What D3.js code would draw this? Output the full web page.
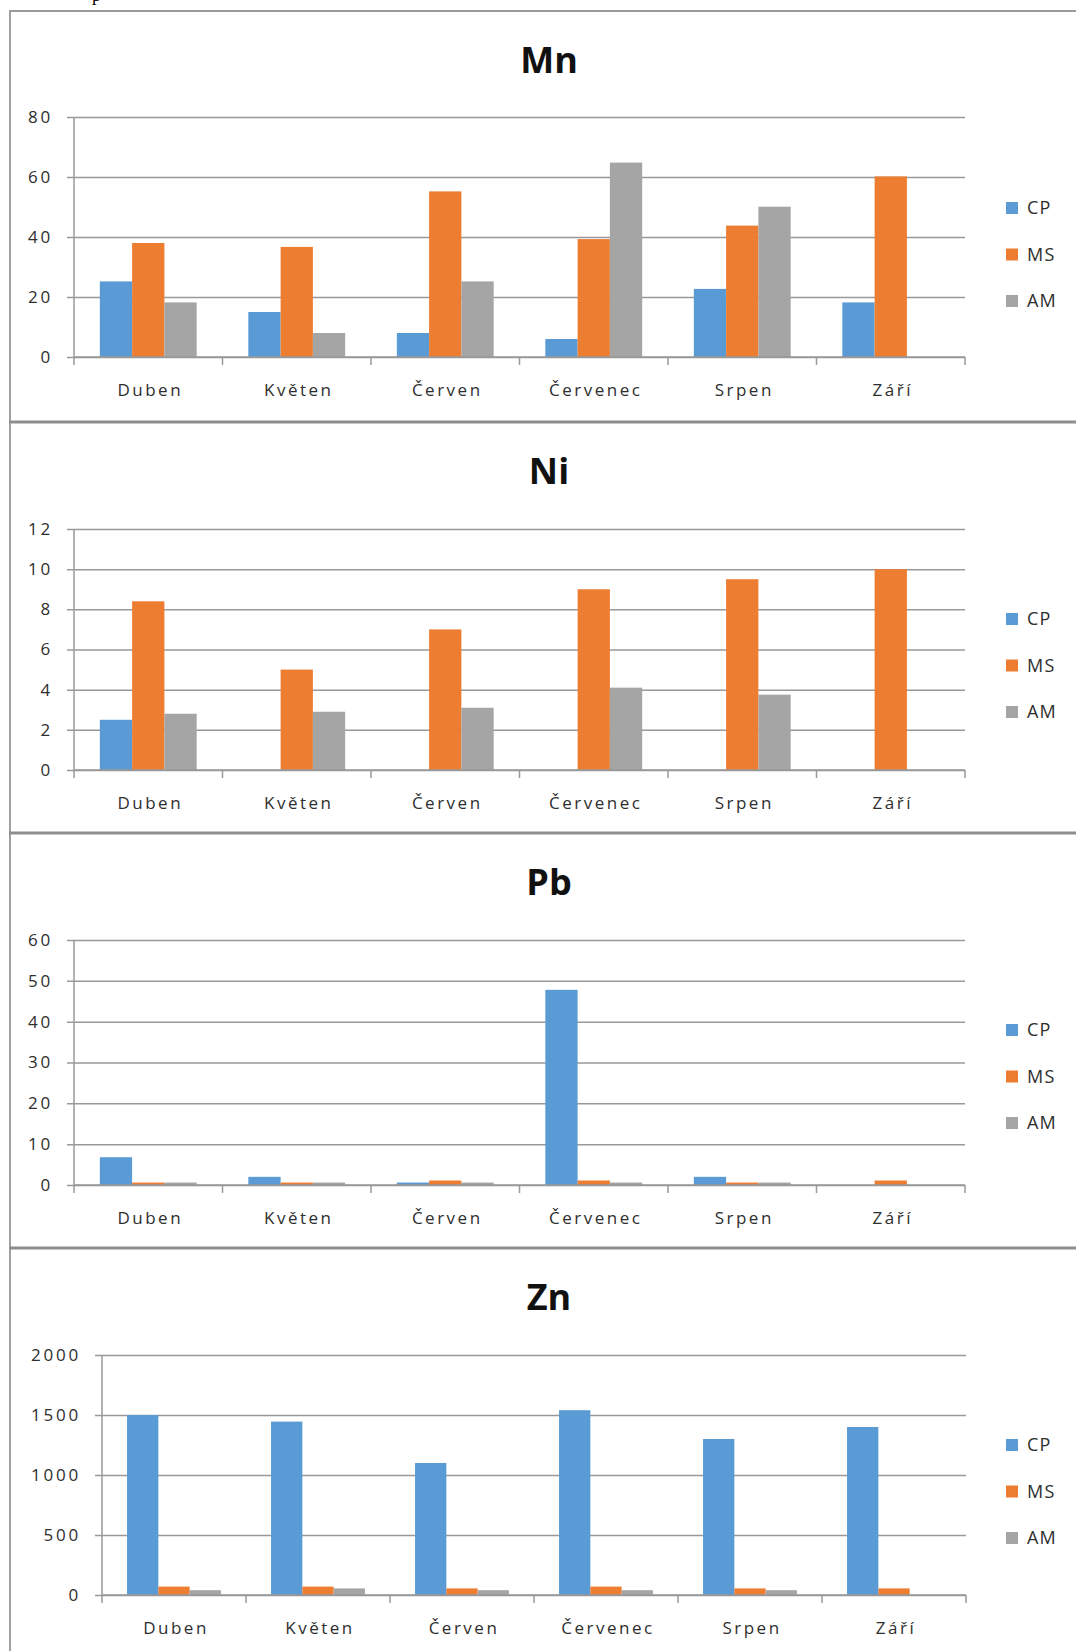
<!DOCTYPE html>
<html>
<head>
<meta charset="utf-8">
<script src="https://cdn.jsdelivr.net/npm/d3@7"></script>
<style>
  html, body { margin: 0; padding: 0; background: #fff; }
  svg { display: block; }
</style>
</head>
<body>
<svg id="chart" width="1076" height="1651"></svg>
<script>
// Months on the category axis and the three sampling sites
const months = ["Duben", "Květen", "Červen", "Červenec", "Srpen", "Září"];
const sites = ["CP", "MS", "AM"];
const siteColors = ["#5b9bd5", "#ed7d31", "#a5a5a5"];

// Manganese
const mnCP = [25.2, 15, 8, 6, 22.7, 18.2];
const mnMS = [38, 36.7, 55.2, 39.3, 43.8, 60.2];
const mnAM = [18.2, 8, 25.2, 64.8, 50.1, 0];
const mnTicks = [0, 20, 40, 60, 80];

// Nickel
const niCP = [2.5, 0, 0, 0, 0, 0];
const niMS = [8.4, 5, 7, 9, 9.5, 10];
const niAM = [2.8, 2.9, 3.1, 4.1, 3.75, 0];
const niTicks = [0, 2, 4, 6, 8, 10, 12];

// Lead
const pbCP = [6.8, 2, 0.6, 47.8, 2, 0];
const pbMS = [0.6, 0.6, 1.1, 1.1, 0.6, 1.1];
const pbAM = [0.6, 0.6, 0.6, 0.6, 0.6, 0];
const pbTicks = [0, 10, 20, 30, 40, 50, 60];

// Zinc
const znCP = [1500, 1445, 1100, 1540, 1300, 1400];
const znMS = [70, 70, 55, 70, 55, 55];
const znAM = [40, 55, 40, 40, 40, 0];
const znTicks = [0, 500, 1000, 1500, 2000];

const charts = [
  { title: "Mn", values: [mnCP, mnMS, mnAM], ticks: mnTicks },
  { title: "Ni", values: [niCP, niMS, niAM], ticks: niTicks },
  { title: "Pb", values: [pbCP, pbMS, pbAM], ticks: pbTicks },
  { title: "Zn", values: [znCP, znMS, znAM], ticks: znTicks }
];

// Frame geometry of each stacked chart
const frames = [
  { top: 11,   plotTop: 117, plotBottom: 357,  left: 74,  right: 965 },
  { top: 422,  plotTop: 529, plotBottom: 770,  left: 74,  right: 965 },
  { top: 833,  plotTop: 940, plotBottom: 1185, left: 74,  right: 965 },
  { top: 1248, plotTop: 1355, plotBottom: 1595, left: 102, right: 966 }
];

const svg = d3.select("#chart");
const font = "'Open Sans', 'Noto Sans', sans-serif";
const gridColor = "#999999";
const textColor = "#2e2e2e";

// Fragment of the surrounding document text above the first chart
svg.append("text")
  .attr("x", 92).attr("y", 1)
  .attr("font-family", "'Liberation Serif', serif")
  .attr("font-size", 18)
  .attr("fill", "#000")
  .text("p");

// Outer borders: left edge and top edge of the chart stack
svg.append("line")
  .attr("x1", 10).attr("x2", 10).attr("y1", 10).attr("y2", 1651)
  .attr("stroke", "#a0a0a0").attr("stroke-width", 2);
svg.append("line")
  .attr("x1", 9).attr("x2", 1076).attr("y1", 11).attr("y2", 11)
  .attr("stroke", "#9a9a9a").attr("stroke-width", 2);

// Separators between stacked charts
frames.slice(1).forEach(f => {
  svg.append("line")
    .attr("x1", 9).attr("x2", 1076).attr("y1", f.top).attr("y2", f.top)
    .attr("stroke", "#8e8e8e").attr("stroke-width", 3);
});

charts.forEach((c, i) => {
  const f = frames[i];
  const g = svg.append("g");

  const x0 = d3.scaleBand().domain(months).range([f.left, f.right]).padding(0);
  const step = x0.bandwidth();
  const barW = step / 4.6;
  const gap = step - 3 * barW;
  const x1 = d3.scaleBand().domain(sites).range([gap / 2, step - gap / 2]).padding(0);

  const yMax = c.ticks[c.ticks.length - 1];
  const y = d3.scaleLinear().domain([0, yMax]).range([f.plotBottom, f.plotTop]);

  // Title
  g.append("text")
    .attr("x", 549).attr("y", f.top + 62)
    .attr("text-anchor", "middle")
    .attr("font-family", font)
    .attr("font-weight", "bold")
    .attr("font-size", 36)
    .attr("fill", "#111")
    .text(c.title);

  // Horizontal gridlines with outward tick marks
  const yAxis = d3.axisLeft(y).tickValues(c.ticks).tickSize(-(f.right - f.left)).tickSizeOuter(0).tickFormat("");
  const yg = g.append("g").attr("transform", `translate(${f.left},0)`).call(yAxis);
  yg.select(".domain").remove();
  yg.selectAll(".tick line")
    .attr("x1", -7)
    .attr("stroke", gridColor).attr("stroke-width", 1.5);

  // Y tick labels
  g.selectAll(".ylab").data(c.ticks).enter().append("text")
    .attr("x", f.left - 21)
    .attr("y", d => y(d))
    .attr("dy", "0.35em")
    .attr("text-anchor", "end")
    .attr("font-family", font)
    .attr("font-size", 17)
    .attr("letter-spacing", 2.8)
    .attr("fill", textColor)
    .text(d => d);

  // Bars
  c.values.forEach((vals, s) => {
    g.selectAll(".bar" + s).data(vals).enter().append("rect")
      .attr("x", (d, k) => x0(months[k]) + x1(sites[s]))
      .attr("width", x1.bandwidth())
      .attr("y", d => y(d))
      .attr("height", d => y(0) - y(d))
      .attr("fill", siteColors[s]);
  });

  // Vertical axis line
  g.append("line")
    .attr("x1", f.left).attr("x2", f.left)
    .attr("y1", f.plotTop).attr("y2", f.plotBottom)
    .attr("stroke", gridColor).attr("stroke-width", 1.5);

  // Category axis with tick marks at band boundaries
  g.append("line")
    .attr("x1", f.left).attr("x2", f.right)
    .attr("y1", f.plotBottom).attr("y2", f.plotBottom)
    .attr("stroke", gridColor).attr("stroke-width", 1.5);
  const bounds = months.map(m => x0(m)).concat([f.right]);
  g.selectAll(".xtick").data(bounds).enter().append("line")
    .attr("x1", d => d).attr("x2", d => d)
    .attr("y1", f.plotBottom).attr("y2", f.plotBottom + 8)
    .attr("stroke", gridColor).attr("stroke-width", 1.5);

  g.selectAll(".xlab").data(months).enter().append("text")
    .attr("x", d => x0(d) + step / 2 + 2)
    .attr("y", f.plotBottom + 33)
    .attr("dy", "0.35em")
    .attr("text-anchor", "middle")
    .attr("font-family", font)
    .attr("font-size", 17)
    .attr("letter-spacing", 2.5)
    .attr("fill", textColor)
    .text(d => d);

  // Legend
  const lg = g.append("g");
  sites.forEach((s, k) => {
    const cy = f.top + 197 + k * 46.5;
    lg.append("rect")
      .attr("x", 1006).attr("y", cy - 6)
      .attr("width", 12).attr("height", 12)
      .attr("fill", siteColors[k]);
    lg.append("text")
      .attr("x", 1027).attr("y", cy)
      .attr("dy", "0.35em")
      .attr("font-family", font)
      .attr("font-size", 18)
      .attr("letter-spacing", 1.2)
      .attr("fill", textColor)
      .text(s);
  });
});
</script>
</body>
</html>
